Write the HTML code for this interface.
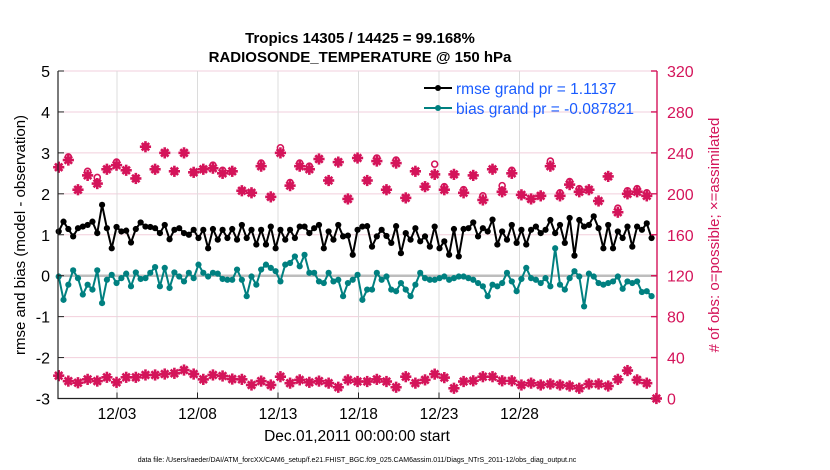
<!DOCTYPE html>
<html><head><meta charset="utf-8"><style>
body{margin:0;background:#fff}
svg{display:block;font-family:"Liberation Sans",Arial,sans-serif}
</style></head><body>
<svg id="chart" width="830" height="470" viewBox="0 0 830 470">
<text x="360" y="43" text-anchor="middle" font-size="15" font-weight="bold">Tropics 14305 / 14425 = 99.168%</text>
<text x="360" y="62" text-anchor="middle" font-size="15" font-weight="bold">RADIOSONDE_TEMPERATURE @ 150 hPa</text>
<g id="grid"></g>
<g id="marks"></g>
<g id="axes"></g>
<g id="legend">
  <g>
    <line x1="424" y1="88" x2="452" y2="88" stroke="#000" stroke-width="2"/><circle cx="438" cy="88" r="3" fill="#000"/>
    <text x="456" y="94" font-size="15.5" fill="#1a5cff">rmse grand pr = 1.1137</text>
  </g>
  <g>
    <line x1="424" y1="108" x2="452" y2="108" stroke="#008080" stroke-width="2"/><circle cx="438" cy="108" r="3" fill="#008080"/>
    <text x="456" y="114" font-size="15.5" fill="#1a5cff">bias grand pr = -0.087821</text>
  </g>
</g>
<text transform="translate(25,235) rotate(-90)" text-anchor="middle" font-size="15">rmse and bias (model - observation)</text>
<text transform="translate(719,235) rotate(-90)" text-anchor="middle" font-size="15" fill="#d4145a"># of obs: o=possible; ×=assimilated</text>
<text x="357" y="441" text-anchor="middle" font-size="15.5">Dec.01,2011 00:00:00 start</text>
<text x="357" y="462" text-anchor="middle" font-size="7">data file: /Users/raeder/DAI/ATM_forcXX/CAM6_setup/f.e21.FHIST_BGC.f09_025.CAM6assim.011/Diags_NTrS_2011-12/obs_diag_output.nc</text>
</svg>
<script>
const rmse=[1.08,1.32,1.14,0.96,1.16,1.20,1.24,1.32,1.04,1.73,1.16,0.67,1.19,1.08,1.10,0.81,1.14,1.30,1.20,1.19,1.16,1.04,1.24,0.89,1.12,1.16,1.04,1.00,1.12,0.92,1.12,0.67,
1.14,0.88,1.12,0.92,1.14,0.88,1.24,0.92,1.12,0.76,1.12,0.76,1.20,0.67,1.12,0.88,1.12,0.92,1.20,1.20,1.04,1.16,1.24,0.67,1.08,0.88,1.24,0.96,0.98,0.51,1.12,
1.20,1.21,0.71,0.96,1.12,0.97,0.80,1.21,0.55,1.04,0.88,1.16,0.84,0.96,0.71,1.20,0.67,0.84,0.51,1.14,0.47,1.14,1.16,1.30,0.96,1.16,1.08,1.37,0.76,1.08,0.88,
1.24,0.80,1.12,0.76,1.12,1.20,1.04,1.12,1.36,1.04,1.24,0.80,1.41,0.49,1.36,1.20,1.24,1.45,1.16,0.67,1.24,0.67,1.08,0.92,1.20,0.71,1.20,1.12,1.28,0.92];
const bias=[-0.02,-0.59,-0.22,0.13,-0.06,-0.46,-0.22,-0.34,0.13,-0.67,-0.10,0.02,-0.18,-0.06,0.05,-0.26,0.08,-0.08,-0.06,0.07,0.21,-0.26,0.19,-0.30,0.08,-0.02,-0.14,0.07,-0.06,0.27,0.07,-0.02,
0.07,0.05,-0.08,-0.10,-0.10,0.15,-0.10,-0.50,-0.02,-0.22,0.15,0.27,0.19,0.11,-0.14,0.27,0.31,0.47,0.23,0.51,0.07,0.07,-0.14,-0.18,0.07,-0.14,-0.10,-0.50,-0.18,-0.10,0.02,
-0.59,-0.34,-0.34,0.07,-0.10,-0.02,-0.34,-0.38,-0.18,-0.34,-0.50,-0.22,0.07,-0.06,-0.10,-0.10,-0.06,-0.02,-0.10,-0.06,-0.02,-0.02,-0.06,-0.10,-0.18,-0.26,-0.50,-0.22,-0.26,-0.18,0.07,
-0.14,-0.38,-0.08,0.19,-0.06,-0.10,-0.18,-0.06,-0.26,0.67,-0.22,-0.34,-0.06,0.11,-0.02,-0.75,0.05,-0.02,-0.18,-0.22,-0.18,-0.14,-0.02,-0.32,-0.14,-0.18,-0.14,-0.40,-0.38,-0.50];
const assimTop=[226,233,204,218,210,224,228,223,215,246,224,240,222,240,221,224,225,220,222,203,201,227,197,240,208,227,224,234,213,231,195,235,213,232,204,230,196,222,207,219,204,219,201,218,194,224,202,220,199,195,198,227,198,209,202,204,193,217,182,200,202,198];
const possTop=[226,236,204,222,216,224,231,223,215,246,224,240,222,240,221,224,228,223,222,203,201,230,197,245,211,230,227,234,213,231,195,235,213,235,204,233,196,222,207,229,207,219,204,218,198,224,208,223,199,195,198,232,201,212,205,204,193,217,186,203,205,201];
const obsBottom=[22.3,17,15.4,18.7,17,20.7,15.8,20.7,20.7,23,23,23.9,24.6,27.8,23.9,18.7,23,22,19,18.7,13.2,17,13.2,21.3,15,18.2,15.8,17,15,11,18.2,16.6,16.6,18.7,16.6,11,21.3,15,18.2,23.8,20.4,10,16.6,17.3,21.3,21.3,17.3,17.3,13.2,15,13.2,14.2,13.2,12.2,10,14.2,14.2,12.2,18.7,27.3,18.2,15,0];
const xTickDays=[3,8,13,18,23,28];
const xTickLabels=["12/03","12/08","12/13","12/18","12/23","12/28"];
const leftTicks=[-3,-2,-1,0,1,2,3,4,5];
const rightTicks=[0,40,80,120,160,200,240,280,320];

const L=58,R=657,T=71,B=398.5,MAG="#d4145a";
const xBin=u=>58.7+u*(656.4-58.7)/124;
const xDay=d=>117+(d-3)*16.1;
const yL=v=>B-(v+3)*(B-T)/8;
const yR=c=>B-c*(B-T)/320;
const NS="http://www.w3.org/2000/svg";
function mk(tag,attrs,parent){const e=document.createElementNS(NS,tag);for(const k in attrs)e.setAttribute(k,attrs[k]);parent.appendChild(e);return e;}
const grid=document.getElementById('grid'),marks=document.getElementById('marks'),axes=document.getElementById('axes');

rightTicks.forEach(c=>{const g=mk('line',{x1:L,x2:R,y1:yR(c),y2:yR(c),stroke:'#f2cfdc','stroke-width':1},grid);

});
xTickDays.forEach(d=>{const g=mk('line',{x1:xDay(d),x2:xDay(d),y1:T,y2:B,stroke:'#dcdcdc','stroke-width':1},grid);

});
const zl=mk('line',{x1:L,x2:R,y1:yL(0),y2:yL(0),stroke:'#bdbdbd','stroke-width':2.5},grid);



function star(x,y,parent,name){const g=mk('g',{stroke:MAG,'stroke-width':2.6,'stroke-linecap':'square'},parent);


mk('line',{x1:x-4.3,x2:x+4.3,y1:y,y2:y},g);mk('line',{x1:x,x2:x,y1:y-4.3,y2:y+4.3},g);
mk('line',{x1:x-2.8,x2:x+2.8,y1:y-2.8,y2:y+2.8},g);mk('line',{x1:x-2.8,x2:x+2.8,y1:y+2.8,y2:y-2.8},g);}
possTop.forEach((c,k)=>{const ci=mk('circle',{cx:xBin(2*k),cy:yR(c),r:3,fill:'none',stroke:MAG,'stroke-width':1.6},marks);

});
assimTop.forEach((c,k)=>star(xBin(2*k),yR(c),marks,'obs-assimilated-marker'));
obsBottom.forEach((c,k)=>star(xBin(2*k),yR(c),marks,'obs-count-marker'));

function series(arr,color,name){
 const p=mk('polyline',{points:arr.map((v,i)=>xBin(i)+','+yL(v)).join(' '),fill:'none',stroke:color,'stroke-width':2,'stroke-linejoin':'round'},marks);
 
 
 arr.forEach((v,i)=>{const c=mk('circle',{cx:xBin(i),cy:yL(v),r:3.1,fill:color},marks);
 
 });
}
series(bias,'#008080','bias');
series(rmse,'#000','rmse');

const fr=mk('path',{d:`M${L},${T}V${B}H${R}`,fill:'none',stroke:'#222','stroke-width':1.2},axes);


const ra=mk('line',{x1:R,x2:R,y1:T,y2:B,stroke:MAG,'stroke-width':1.4},axes);


leftTicks.forEach(v=>{mk('line',{x1:L,x2:L+6,y1:yL(v),y2:yL(v),stroke:'#222'},axes);
const t=mk('text',{x:L-8,y:yL(v)+6,'text-anchor':'end','font-size':16},axes);t.textContent=v;

});
rightTicks.forEach(c=>{mk('line',{x1:R-6,x2:R,y1:yR(c),y2:yR(c),stroke:MAG,'stroke-width':1.4},axes);
const t=mk('text',{x:R+10,y:yR(c)+6,'font-size':16,fill:MAG},axes);t.textContent=c;

});
xTickDays.forEach((d,i)=>{mk('line',{x1:xDay(d),x2:xDay(d),y1:B,y2:B-6,stroke:'#222'},axes);
const t=mk('text',{x:xDay(d),y:419,'text-anchor':'middle','font-size':15.5},axes);t.textContent=xTickLabels[i];

});
const lg=document.getElementById('legend');document.getElementById('chart').appendChild(lg);
</script>
</body></html>
